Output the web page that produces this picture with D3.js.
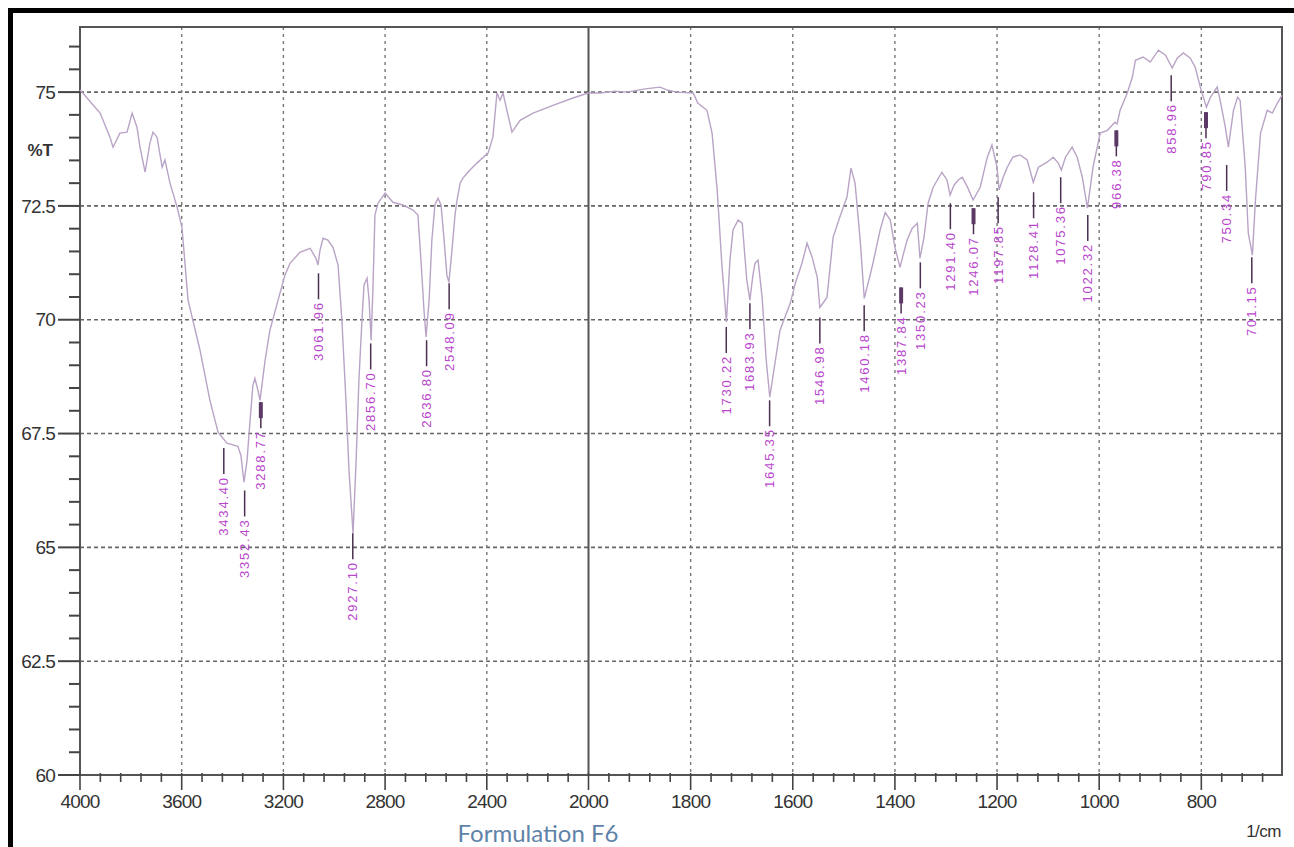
<!DOCTYPE html>
<html>
<head>
<meta charset="utf-8">
<script src="https://cdn.jsdelivr.net/npm/d3@7"></script>
<style>
  html, body { margin: 0; padding: 0; background: #fff; }
  svg { display: block; }
  .tick-label { font-family: "Liberation Sans", Arial, sans-serif; fill: #333; }
  .peak-label { font-family: "Liberation Sans", Arial, sans-serif; fill: #b845cc; }
</style>
</head>
<body>
<svg id="chart" width="1294" height="847"></svg>
<script>
// spectrum (wavenumber in 1/cm, %T)
const waveNumbers = [
  4000, 3921, 3882, 3870, 3843, 3815, 3795, 3776, 3764, 3744, 3725, 3713, 3697, 3677, 3666, 3646,
  3618, 3599, 3575, 3528, 3489, 3457, 3422, 3379, 3367, 3355, 3343, 3331, 3320, 3312, 3300, 3292,
  3272, 3253, 3221, 3194, 3174, 3135, 3095, 3072, 3064, 3056, 3044, 3025, 3005, 2985, 2970, 2954,
  2942, 2926, 2914, 2903, 2891, 2883, 2871, 2863, 2855, 2848, 2840, 2828, 2800, 2769, 2730, 2690,
  2671, 2659, 2647, 2639, 2627, 2616, 2604, 2592, 2580, 2568, 2557, 2549, 2537, 2525, 2517, 2505,
  2494, 2466, 2439, 2395, 2376, 2360, 2348, 2336, 2321, 2301, 2269, 2218, 2140, 2061, 2002,
  1977, 1948, 1925, 1889, 1860, 1844, 1827, 1795, 1786, 1768, 1758, 1748, 1739, 1730, 1723, 1717,
  1707, 1699, 1690, 1684, 1678, 1674, 1668, 1660, 1652, 1645, 1634, 1625, 1605, 1595, 1582, 1572,
  1562, 1552, 1547, 1533, 1521, 1508, 1494, 1486, 1478, 1468, 1460, 1451, 1443, 1429, 1419, 1409,
  1400, 1390, 1384, 1376, 1366, 1356, 1351, 1343, 1335, 1325, 1308, 1298, 1292, 1284, 1276, 1268,
  1257, 1247, 1233, 1219, 1210, 1200, 1196, 1188, 1180, 1169, 1155, 1141, 1129, 1119, 1102, 1090,
  1080, 1074, 1066, 1053, 1043, 1033, 1023, 1012, 998, 984, 969, 965, 959, 945, 935, 929,
  914, 900, 884, 870, 857, 847, 835, 822, 812, 802, 790, 782, 769, 763, 753, 747,
  737, 729, 724, 714, 708, 700, 694, 684, 671, 661, 651, 642
];
const transmittance = [
  75.05, 74.54, 74.01, 73.79, 74.10, 74.12, 74.54, 74.23, 73.79, 73.24, 73.88, 74.12, 74.01, 73.35, 73.51, 73.00,
  72.47, 72.03, 70.43, 69.33, 68.23, 67.53, 67.29, 67.22, 67.02, 66.43, 66.91, 67.79, 68.56, 68.71, 68.45, 68.23,
  69.11, 69.77, 70.43, 70.98, 71.24, 71.48, 71.57, 71.35, 71.20, 71.53, 71.79, 71.75, 71.59, 71.20, 69.99, 68.23,
  66.69, 65.31, 66.91, 68.67, 69.99, 70.76, 70.91, 70.43, 69.55, 70.65, 72.30, 72.56, 72.78, 72.58, 72.52, 72.41,
  72.30, 71.31, 70.21, 69.62, 70.43, 71.75, 72.52, 72.67, 72.52, 71.75, 70.98, 70.82, 71.53, 72.30, 72.63, 73.00,
  73.11, 73.29, 73.44, 73.66, 74.01, 74.98, 74.82, 74.98, 74.60, 74.12, 74.38, 74.54, 74.71, 74.87, 74.98,
  74.98, 75.02, 75.00, 75.07, 75.11, 75.04, 75.00, 74.98, 74.76, 74.60, 74.10, 72.85, 71.24, 69.95, 71.31, 71.97,
  72.19, 72.12, 70.87, 70.43, 70.98, 71.24, 71.31, 70.49, 69.11, 68.30, 69.11, 69.77, 70.36, 70.80, 71.24, 71.68,
  71.37, 70.93, 70.27, 70.49, 71.81, 72.25, 72.69, 73.33, 73.00, 71.75, 70.47, 70.87, 71.24, 71.97, 72.36, 72.19,
  71.59, 71.15, 71.42, 71.75, 72.01, 72.12, 71.35, 71.81, 72.56, 72.91, 73.24, 73.07, 72.74, 72.96, 73.07, 73.13,
  72.89, 72.63, 72.91, 73.57, 73.84, 73.35, 72.85, 73.13, 73.35, 73.57, 73.62, 73.51, 73.02, 73.35, 73.46, 73.57,
  73.44, 73.29, 73.57, 73.79, 73.57, 73.13, 72.45, 73.35, 74.10, 74.16, 74.34, 74.30, 74.60, 74.98, 75.33, 75.70,
  75.77, 75.66, 75.92, 75.81, 75.53, 75.75, 75.86, 75.75, 75.55, 75.11, 74.67, 74.89, 75.11, 74.82, 74.23, 73.79,
  74.60, 74.89, 74.82, 73.35, 71.90, 71.42, 72.63, 74.10, 74.60, 74.54, 74.76, 74.93
];

// peak picks: label, %T at top of marker, bold marker or not
const peakLabels = [
  "3434.40", "3352.43", "3288.77", "3061.96", "2927.10", "2856.70", "2636.80", "2548.09",
  "1730.22", "1683.93", "1645.35", "1546.98", "1460.18", "1387.84", "1350.23", "1291.40",
  "1246.07", "1197.85", "1128.41", "1075.36", "1022.32", "966.38", "858.96", "790.85",
  "750.34", "701.15"
];
const peakT = [
  67.18, 66.25, 68.19, 71.02, 65.31, 69.48, 69.55, 70.80,
  69.84, 70.36, 68.23, 70.05, 70.32, 70.71, 71.26, 72.56,
  72.45, 72.69, 72.80, 73.13, 72.30, 74.16, 75.37, 74.56,
  73.40, 71.37
];
const peakBold = [
  0, 0, 1, 0, 0, 0, 0, 0,
  0, 0, 0, 0, 0, 1, 0, 0,
  1, 0, 0, 0, 0, 1, 0, 1,
  0, 0
];

const xMajor = [4000, 3600, 3200, 2800, 2400, 2000, 1800, 1600, 1400, 1200, 1000, 800];
const yMajor = [60, 62.5, 65, 67.5, 70, 72.5, 75];
const yLabels = ["60", "62.5", "65", "67.5", "70", "72.5", "75"];

const svg = d3.select('#chart');
const plotLeft = 80, plotRight = 1282, plotTop = 27, plotBottom = 775;

// Shimadzu style split axis: scale doubles below 2000
const x = d3.scaleLinear().domain([4000, 2000, 642]).range([plotLeft, 588.5, plotRight]);
const y = d3.scaleLinear().domain([60, 76.43]).range([plotBottom, plotTop]);

// outer black border (top + left only, picture is cropped)
svg.append('rect').attr('x', 8).attr('y', 8).attr('width', 1286).attr('height', 5).attr('fill', '#000');
svg.append('rect').attr('x', 8).attr('y', 8).attr('width', 5).attr('height', 839).attr('fill', '#000');

// grid
svg.append('g')
  .selectAll('line')
  .data(yMajor.filter(d => d > 60))
  .enter()
  .append('line')
  .attr('x1', plotLeft).attr('x2', plotRight)
  .attr('y1', d => y(d)).attr('y2', d => y(d))
  .attr('stroke', '#666')
  .attr('stroke-width', 1.6)
  .attr('stroke-dasharray', '4,3');

svg.append('g')
  .selectAll('line')
  .data(xMajor.filter(d => d !== 4000 && d !== 2000))
  .enter()
  .append('line')
  .attr('x1', d => x(d)).attr('x2', d => x(d))
  .attr('y1', plotTop).attr('y2', plotBottom)
  .attr('stroke', '#777')
  .attr('stroke-width', 1.4)
  .attr('stroke-dasharray', '3,4');

svg.append('line')
  .attr('x1', x(2000)).attr('x2', x(2000))
  .attr('y1', plotTop).attr('y2', plotBottom)
  .attr('stroke', '#555')
  .attr('stroke-width', 2);

// frame
svg.append('rect')
  .attr('x', plotLeft).attr('y', plotTop)
  .attr('width', plotRight - plotLeft).attr('height', plotBottom - plotTop)
  .attr('fill', 'none')
  .attr('stroke', '#555')
  .attr('stroke-width', 2);

// y ticks every 0.5
const yMinor = d3.range(60, 76.01, 0.5);
svg.append('g')
  .selectAll('line')
  .data(yMinor)
  .enter()
  .append('line')
  .attr('x1', d => (d % 2.5 === 0 ? plotLeft - 22 : plotLeft - 11))
  .attr('x2', plotLeft)
  .attr('y1', d => y(d)).attr('y2', d => y(d))
  .attr('stroke', '#444')
  .attr('stroke-width', 2);

svg.append('g')
  .selectAll('text')
  .data(yMajor)
  .enter()
  .append('text')
  .attr('class', 'tick-label')
  .attr('x', 55)
  .attr('y', d => y(d))
  .attr('dy', '0.35em')
  .attr('text-anchor', 'end')
  .attr('font-size', 19)
  .attr('letter-spacing', -0.8)
  .text((d, i) => yLabels[i]);

svg.append('text')
  .attr('class', 'tick-label')
  .attr('x', 53).attr('y', 150)
  .attr('dy', '0.35em')
  .attr('text-anchor', 'end')
  .attr('font-size', 17)
  .attr('font-weight', 'bold')
  .attr('fill', '#444')
  .text('%T');

// x ticks: 5 sub divisions per major step
const xMinor = d3.range(4000, 2000, -80).concat(d3.range(2000, 642, -40));
svg.append('g')
  .selectAll('line')
  .data(xMinor)
  .enter()
  .append('line')
  .attr('x1', d => x(d)).attr('x2', d => x(d))
  .attr('y1', plotBottom - 2)
  .attr('y2', d => plotBottom + (xMajor.includes(d) ? 15 : 7))
  .attr('stroke', '#444')
  .attr('stroke-width', 1.6);

svg.append('g')
  .selectAll('text')
  .data(xMajor)
  .enter()
  .append('text')
  .attr('class', 'tick-label')
  .attr('x', d => x(d))
  .attr('y', 808)
  .attr('text-anchor', 'middle')
  .attr('font-size', 19)
  .attr('letter-spacing', -0.8)
  .text(d => d);

svg.append('text')
  .attr('class', 'tick-label')
  .attr('x', 1281).attr('y', 837)
  .attr('text-anchor', 'end')
  .attr('font-size', 17)
  .attr('letter-spacing', -0.5)
  .text('1/cm');

svg.append('text')
  .attr('x', 538).attr('y', 842)
  .attr('text-anchor', 'middle')
  .attr('font-family', 'Lato, "Open Sans", sans-serif')
  .attr('font-size', 24)
  .attr('fill', '#5f83a8')
  .text('Formulation F6');

// spectrum
const spectrum = waveNumbers.map((w, i) => ({ w: w, t: transmittance[i] }));
const line = d3.line().x(d => x(d.w)).y(d => y(d.t));

svg.append('path')
  .datum(spectrum)
  .attr('d', line)
  .attr('fill', 'none')
  .attr('stroke', '#b9a3c6')
  .attr('stroke-width', 1.4);

// peak markers and labels
const peaks = peakLabels.map((l, i) => ({ label: l, w: +l, t: peakT[i], bold: peakBold[i] }));
const markLen = 26;

const pk = svg.append('g').selectAll('g')
  .data(peaks)
  .enter()
  .append('g');

pk.append('line')
  .attr('x1', d => x(d.w)).attr('x2', d => x(d.w))
  .attr('y1', d => y(d.t)).attr('y2', d => y(d.t) + markLen)
  .attr('stroke', '#4a3050')
  .attr('stroke-width', 1.5);

pk.filter(d => d.bold)
  .append('line')
  .attr('x1', d => x(d.w)).attr('x2', d => x(d.w))
  .attr('y1', d => y(d.t)).attr('y2', d => y(d.t) + 16)
  .attr('stroke', '#5c3a66')
  .attr('stroke-width', 4);

pk.append('text')
  .attr('class', 'peak-label')
  .attr('transform', d => `translate(${x(d.w)},${y(d.t) + markLen + 2}) rotate(-90)`)
  .attr('text-anchor', 'end')
  .attr('dy', '0.35em')
  .attr('font-size', 13)
  .attr('letter-spacing', 1.8)
  .text(d => d.label);
</script>
</body>
</html>
